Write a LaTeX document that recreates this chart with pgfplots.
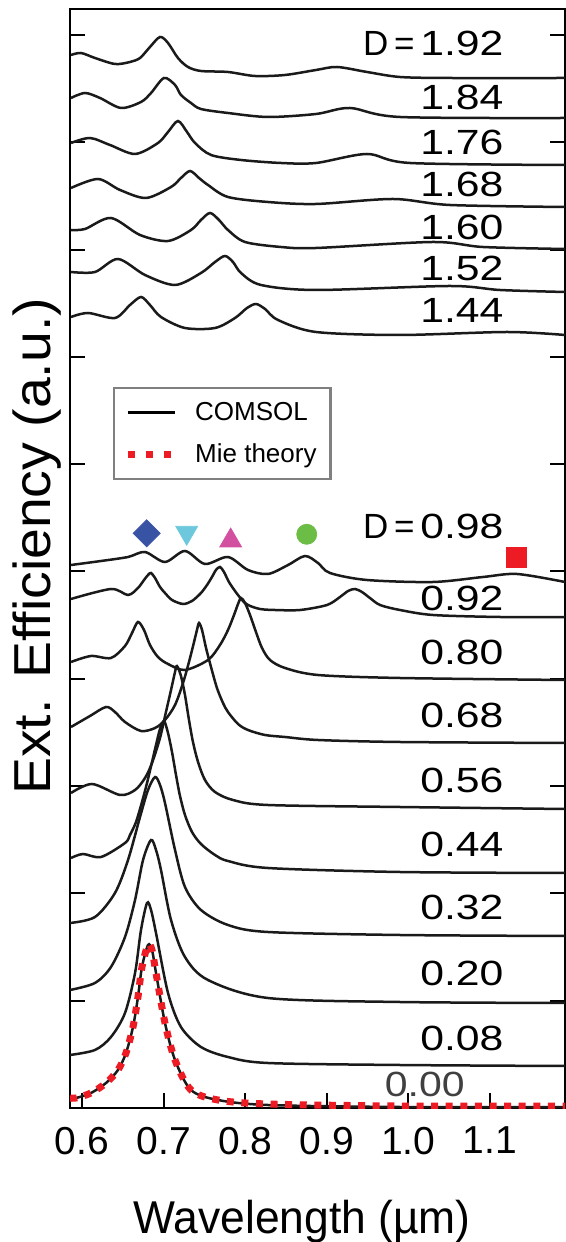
\documentclass[border=0pt]{standalone}
\usepackage{pgfplots}
\pgfplotsset{compat=1.18}
\usepackage{fontspec}
\setmainfont{Liberation Sans}
\definecolor{mblue}{HTML}{3953A4}
\definecolor{mcyan}{HTML}{6DC8DD}
\definecolor{mmag}{HTML}{D34FA0}
\definecolor{mgreen}{HTML}{6CBD45}
\definecolor{mred}{HTML}{ED1C24}
\definecolor{curvec}{HTML}{1A1A1A}
\newcommand{\lab}[1]{\scalebox{1.22}[1]{#1}}
\tikzset{lbl/.style={anchor=east, inner sep=0pt, font=\fontsize{17.5bp}{20bp}\selectfont}}
\begin{document}
\begin{tikzpicture}
\useasboundingbox (-35bp,-67bp) rectangle (248bp,554bp);
\begin{axis}[
 at={(0,0)}, anchor=south west,
 scale only axis, width=247.5bp, height=549.5bp,
 xmin=0.5853, xmax=1.1919, ymin=0, ymax=1099,
 axis line style={line width=1.2bp},
 xtick={0.6,0.7,0.8,0.9,1.0,1.1},
 xticklabels={0.6,0.7,0.8,0.9,1.0,1.1},
 xtick pos=lower, ytick pos=both,
 ytick={107.3,214.6,321.9,429.2,536.5,643.8,751.1,858.4,965.7,1073},
 yticklabels={},
 major tick length=7.5bp,
 tick style={line width=1bp, black},
 tick align=inside,
 xticklabel style={font=\fontsize{19.5bp}{22bp}\selectfont, yshift=-6bp},
 xlabel={\scalebox{0.965}[1]{Wavelength (µm)}},
 ylabel={\scalebox{1.065}[1]{Ext. Efficiency (a.u.)}},
 xlabel style={font=\fontsize{23bp}{26bp}\selectfont, at={(axis description cs:0.469,0)}, anchor=base, yshift=-62.5bp},
 ylabel style={font=\fontsize{26bp}{29bp}\selectfont, at={(axis description cs:-0.0667,0.511)}, anchor=center},
 legend style={at={(axis description cs:0.0869,0.656)}, anchor=north west, draw=gray, line width=1.2bp,
   font=\fontsize{13bp}{15bp}\selectfont, inner xsep=5bp, inner ysep=5bp, row sep=6bp, cells={anchor=west}},
 legend image code/.code={\path (0bp,0bp) (30bp,0bp); \draw[#1] (0bp,0bp) -- (23.5bp,0bp);},
 curve/.style={curvec, line width=1.25bp, smooth, tension=0.5, forget plot},
]
\addlegendimage{black, line width=1.6bp}
\addlegendentry{COMSOL}
\addlegendimage{mred, line width=3.5bp, dash pattern=on 3.5bp off 5.5bp}
\addlegendentry{Mie theory}

% upper group
\addplot[curve] coordinates {(0.5865,1053)(0.5988,1055)(0.6159,1050)(0.6404,1044)(0.6588,1046)(0.6711,1050)(0.6833,1061)(0.6956,1071)(0.7054,1065)(0.7176,1050)(0.7299,1041)(0.7458,1037)(0.7789,1036)(0.812,1032)(0.8488,1033)(0.8868,1038)(0.9125,1041)(0.9493,1036)(0.9897,1031)(1.051,1030)(1.1919,1030)};
\addplot[curve] coordinates {(0.5865,1010)(0.6037,1015)(0.6221,1010)(0.6478,1000)(0.6723,1006)(0.6846,1015)(0.7005,1030)(0.714,1023)(0.7213,1013)(0.7336,1005)(0.7458,999)(0.7789,995)(0.8279,991)(0.8868,994)(0.9284,1000)(0.9897,991)(1.1919,990)};
\addplot[curve] coordinates {(0.5865,965)(0.6098,970)(0.6343,963)(0.665,954)(0.6931,965)(0.7054,976)(0.7176,987)(0.7287,976)(0.7385,965)(0.7581,953)(0.7949,948)(0.8439,945)(0.8868,945)(0.9493,954)(1.002,945)(1.1919,943)};
\addplot[curve] coordinates {(0.5865,920)(0.6196,929)(0.6466,918)(0.6784,910)(0.7091,921)(0.7213,930)(0.7324,937)(0.7434,930)(0.7544,923)(0.7789,911)(0.8279,906)(0.8868,904)(0.9811,909)(1.051,903)(1.1919,901)};
\addplot[curve] coordinates {(0.5865,878)(0.6037,879)(0.6355,890)(0.6711,873)(0.7054,867)(0.7336,878)(0.7458,888)(0.7569,895)(0.7679,888)(0.7789,878)(0.7998,866)(0.8439,861)(0.8868,860)(1.0301,866)(1.0914,861)(1.1919,859)};
\addplot[curve] coordinates {(0.5865,836)(0.6159,836)(0.6441,849)(0.6772,833)(0.714,823)(0.7458,835)(0.763,846)(0.7752,852)(0.785,846)(0.7949,835)(0.8194,823)(0.8868,818)(1.051,822)(1.1122,818)(1.1919,816)};
\addplot[curve] coordinates {(0.5865,791)(0.6074,795)(0.6404,790)(0.6588,803)(0.6723,811)(0.6833,803)(0.6968,791)(0.7262,780)(0.763,780)(0.7875,790)(0.8022,800)(0.8132,804)(0.8243,799)(0.8402,788)(0.8868,776)(0.9897,773)(1.1208,776)(1.1919,773)};

% lower group
\addplot[curve] coordinates {(0.5865,543)(0.6233,547)(0.6564,551)(0.6772,556)(0.7017,546)(0.7262,557)(0.7507,544)(0.7789,551)(0.8034,538)(0.8279,534)(0.8525,543)(0.8733,552)(0.8892,545)(0.9039,535)(0.9493,528)(1.0301,526)(1.0914,531)(1.1331,534)(1.1919,526)};
\addplot[curve] coordinates {(0.5865,509)(0.6355,519)(0.6564,513)(0.6686,520)(0.676,528)(0.6809,533)(0.6846,535)(0.6895,530)(0.6956,521)(0.7017,515)(0.7103,508)(0.7238,504)(0.7348,507)(0.7458,515)(0.7532,523)(0.7593,531)(0.7642,538)(0.7691,541)(0.774,536)(0.7801,526)(0.7875,517)(0.7961,508)(0.8034,503)(0.8181,499)(0.8365,498)(0.8672,498)(0.9002,503)(0.9162,511)(0.926,517)(0.9346,519)(0.9431,516)(0.9529,510)(0.9652,503)(0.9897,498)(1.0301,493)(1.1122,491)(1.1919,491)};
\addplot[curve] coordinates {(0.5865,446)(0.611,452)(0.6355,450)(0.6527,462)(0.6613,475)(0.6686,486)(0.676,478)(0.6833,463)(0.6931,451)(0.7054,444)(0.7262,438)(0.7544,448)(0.7691,463)(0.7789,478)(0.7863,493)(0.7912,504)(0.7949,510)(0.7998,505)(0.8059,493)(0.8132,476)(0.8206,460)(0.8304,448)(0.8488,440)(0.8892,433)(0.9897,430)(1.1919,428)};
\addplot[curve] coordinates {(0.5865,381)(0.6098,392)(0.6294,401)(0.6404,396)(0.6527,386)(0.6723,377)(0.6895,380)(0.7017,388)(0.714,403)(0.7238,425)(0.7311,446)(0.7373,466)(0.7409,478)(0.7434,485)(0.7471,478)(0.752,460)(0.7581,441)(0.7654,420)(0.7728,405)(0.7789,396)(0.7912,384)(0.8034,378)(0.8243,373)(0.8488,371)(0.8892,368)(0.9897,366)(1.1919,365)};
\addplot[curve] coordinates {(0.5865,315)(0.6123,324)(0.6466,313)(0.665,318)(0.6772,330)(0.6858,345)(0.6956,370)(0.7029,396)(0.7091,418)(0.714,436)(0.7164,442)(0.7213,432)(0.7262,413)(0.7311,388)(0.736,366)(0.7422,346)(0.7507,328)(0.763,316)(0.785,308)(0.8279,303)(0.9897,301)(1.1919,299)};
\addplot[curve] coordinates {(0.5865,250)(0.6012,254)(0.6233,251)(0.6527,265)(0.6588,273)(0.6662,286)(0.6735,306)(0.6797,325)(0.6858,346)(0.6907,363)(0.6956,379)(0.7005,387)(0.7054,375)(0.7103,356)(0.7152,333)(0.7201,312)(0.7262,293)(0.7348,276)(0.7458,264)(0.763,253)(0.7789,247)(0.8279,240)(0.9897,236)(1.1919,235)};
\addplot[curve] coordinates {(0.5853,185)(0.6159,191)(0.6404,215)(0.6564,248)(0.6711,291)(0.6809,318)(0.6895,331)(0.6956,323)(0.7017,305)(0.714,258)(0.7262,221)(0.7458,198)(0.7789,183)(0.8279,176)(0.9897,173)(1.1919,172)};
\addplot[curve] coordinates {(0.5853,118)(0.6159,125)(0.6355,141)(0.6527,171)(0.665,208)(0.6748,248)(0.6846,268)(0.6907,258)(0.6968,238)(0.7091,188)(0.7262,151)(0.7544,128)(0.8279,110)(0.9897,106)(1.1919,105)};
\addplot[curve] coordinates {(0.5853,53)(0.6159,58)(0.6355,71)(0.6527,95)(0.665,135)(0.6723,178)(0.6797,205)(0.6846,198)(0.6907,175)(0.7054,115)(0.7213,81)(0.7458,61)(0.7789,51)(0.8279,45)(0.9897,43)(1.1919,42)};
\addplot[curve] coordinates {(0.5853,10)(0.5926,10)(0.611,15)(0.6294,25)(0.6441,38)(0.6539,55)(0.6625,81)(0.6686,111)(0.6735,141)(0.6809,163)(0.6858,158)(0.6907,135)(0.7017,85)(0.714,48)(0.7336,18)(0.7667,8)(0.8279,3)(0.9897,1)(1.1919,1)};
% Mie theory
\addplot[mred, line width=3.5bp, dash pattern=on 3.5bp off 3.8bp, smooth, tension=0.5, forget plot] coordinates {(0.5853,10)(0.5926,10)(0.611,15)(0.6294,25)(0.6441,38)(0.6539,55)(0.6625,81)(0.6686,111)(0.6735,141)(0.6809,163)(0.6858,158)(0.6907,135)(0.7017,85)(0.714,48)(0.7336,18)(0.7667,8)(0.8279,4)(0.9897,2)(1.1919,2)};

% resonance markers
\addplot[only marks, mark=square*, mark size=4.77bp, mark options={rotate=45, fill=mblue, draw=mblue}, forget plot] coordinates {(0.6793,574.7)};
\addplot[only marks, mark=triangle*, mark size=6.3bp, mark options={rotate=180, fill=mcyan, draw=mcyan}, forget plot] coordinates {(0.7283,575.4)};
\addplot[only marks, mark=triangle*, mark size=6.3bp, mark options={fill=mmag, draw=mmag}, forget plot] coordinates {(0.7822,567.3)};
\addplot[only marks, mark=*, mark size=5bp, mark options={fill=mgreen, draw=mgreen}, forget plot] coordinates {(0.8754,573.7)};
\addplot[only marks, mark=square*, mark size=5bp, mark options={fill=mred, draw=mred}, forget plot] coordinates {(1.1327,550.7)};

% curve labels
\node[lbl] at (axis cs:1.117,1065) {D\,=\,\lab{1.92}};
\node[lbl] at (axis cs:1.117,1011) {\lab{1.84}};
\node[lbl] at (axis cs:1.117,966) {\lab{1.76}};
\node[lbl] at (axis cs:1.117,924) {\lab{1.68}};
\node[lbl] at (axis cs:1.117,881) {\lab{1.60}};
\node[lbl] at (axis cs:1.117,840) {\lab{1.52}};
\node[lbl] at (axis cs:1.117,798) {\lab{1.44}};
\node[lbl] at (axis cs:1.117,582) {D\,=\,\lab{0.98}};
\node[lbl] at (axis cs:1.117,510) {\lab{0.92}};
\node[lbl] at (axis cs:1.117,456) {\lab{0.80}};
\node[lbl] at (axis cs:1.117,393) {\lab{0.68}};
\node[lbl] at (axis cs:1.117,328) {\lab{0.56}};
\node[lbl] at (axis cs:1.117,264) {\lab{0.44}};
\node[lbl] at (axis cs:1.117,201) {\lab{0.32}};
\node[lbl] at (axis cs:1.117,135) {\lab{0.20}};
\node[lbl] at (axis cs:1.117,70) {\lab{0.08}};
\node[lbl, text=black!75] at (axis cs:1.0694,24) {\scalebox{1.17}[1]{0.00}};
\end{axis}
\end{tikzpicture}
\end{document}
